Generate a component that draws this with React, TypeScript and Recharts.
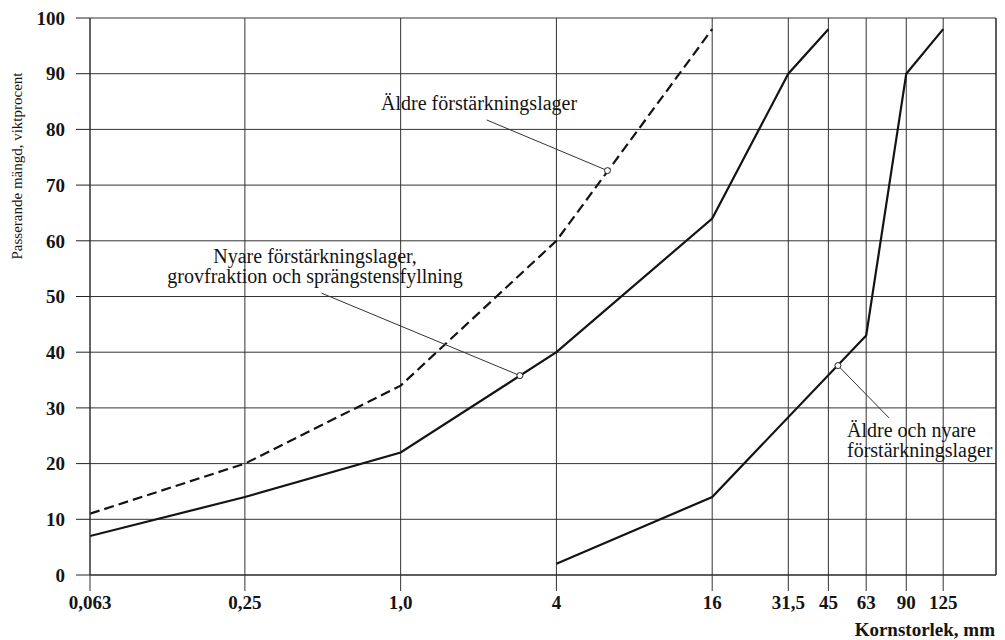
import React from 'react';
import {
  LineChart,
  Line,
  XAxis,
  YAxis,
  CartesianGrid,
  ReferenceLine,
  ReferenceDot,
  Label,
} from 'recharts';

// Sieve sizes (mm) shown on the x axis and their printed labels
const sieveTicks = [0.063, 0.25, 1.0, 4, 16, 31.5, 45, 63, 90, 125];
const sieveLabels = ['0,063', '0,25', '1,0', '4', '16', '31,5', '45', '63', '90', '125'];
const percentTicks = [0, 10, 20, 30, 40, 50, 60, 70, 80, 90, 100];

// Äldre förstärkningslager (dashed)
const aldreSizes = [0.063, 0.25, 1.0, 4, 16];
const aldrePass = [11, 20, 34, 60, 98];

// Nyare förstärkningslager, grovfraktion och sprängstensfyllning
const nyareSizes = [0.063, 0.25, 1.0, 4, 16, 31.5, 45];
const nyarePass = [7, 14, 22, 40, 64, 90, 98];

// Äldre och nyare förstärkningslager
const bandSizes = [4, 16, 63, 90, 125];
const bandPass = [2, 14, 43, 90, 98];

// Annotations: text anchor, leader start, marker on the curve (data coordinates)
const annotations = [
  {
    lines: ['Äldre förstärkningslager'],
    textX: 2.01, textY: 83.5, anchor: 'middle',
    leadX: 2.15, leadY: 81.7,
    dotX: 6.3, dotY: 72.6,
  },
  {
    lines: ['Nyare förstärkningslager,', 'grovfraktion och sprängstensfyllning'],
    textX: 0.467, textY: 56.0, anchor: 'middle',
    leadX: 0.495, leadY: 50.6,
    dotX: 2.89, dotY: 35.8,
  },
  {
    lines: ['Äldre och nyare', 'förstärkningslager'],
    textX: 53.1, textY: 24.8, anchor: 'start',
    leadX: 77.2, leadY: 28.2,
    dotX: 49, dotY: 37.6,
  },
];

const zip = (xs: number[], ys: number[]) => xs.map((x, i) => ({ size: x, pass: ys[i] }));
const aldreData = zip(aldreSizes, aldrePass);
const nyareData = zip(nyareSizes, nyarePass);
const bandData = zip(bandSizes, bandPass);

const FONT = '"Liberation Serif", "Times New Roman", Times, serif';
const INK = '#141414';

const fmtSieve = (v: number) => {
  const i = sieveTicks.indexOf(v);
  return i >= 0 ? sieveLabels[i] : String(v);
};

export default function App() {
  return (
    <LineChart width={997} height={632} margin={{ top: 10, right: 9, bottom: 0, left: 0 }}>
      <CartesianGrid stroke="#333" strokeWidth={1} />
      <XAxis
        type="number"
        dataKey="size"
        scale="log"
        domain={[0.063, 200]}
        allowDataOverflow
        ticks={sieveTicks}
        interval={0}
        tickFormatter={fmtSieve}
        tickSize={16}
        tickMargin={5}
        height={65}
        axisLine={{ stroke: '#222', strokeWidth: 1 }}
        tickLine={{ stroke: '#333', strokeWidth: 1 }}
        tick={{ fill: INK, fontSize: 19, fontWeight: 'bold', fontFamily: FONT }}
      >
        <Label
          content={() => (
            <text
              x={987}
              y={628}
              textAnchor="end"
              fill={INK}
              fontSize={19}
              fontWeight="bold"
              fontFamily={FONT}
            >
              Kornstorlek, mm
            </text>
          )}
        />
      </XAxis>
      <YAxis
        type="number"
        domain={[0, 100]}
        ticks={percentTicks}
        interval={0}
        width={82}
        tickSize={14}
        tickMargin={11}
        axisLine={{ stroke: '#333', strokeWidth: 1 }}
        tickLine={{ stroke: '#222', strokeWidth: 1 }}
        tick={{ fill: INK, fontSize: 19, fontWeight: 'bold', fontFamily: FONT }}
      >
        <Label
          content={() => (
            <text
              x={14}
              y={158}
              transform="rotate(-90 14 158)"
              textAnchor="middle"
              fill={INK}
              fontSize={15}
              fontFamily={FONT}
            >
              Passerande mängd, viktprocent
            </text>
          )}
        />
      </YAxis>
      <ReferenceLine x={200} stroke="#222" strokeWidth={1} />

      <Line
        data={aldreData}
        dataKey="pass"
        type="linear"
        stroke={INK}
        strokeWidth={2.2}
        strokeDasharray="10 5"
        dot={false}
        activeDot={false}
        isAnimationActive={false}
      />
      <Line
        data={nyareData}
        dataKey="pass"
        type="linear"
        stroke={INK}
        strokeWidth={2.2}
        dot={false}
        activeDot={false}
        isAnimationActive={false}
      />
      <Line
        data={bandData}
        dataKey="pass"
        type="linear"
        stroke={INK}
        strokeWidth={2.2}
        dot={false}
        activeDot={false}
        isAnimationActive={false}
      />

      {annotations.map((a, k) => (
        <ReferenceLine
          key={'l' + k}
          segment={[
            { x: a.leadX, y: a.leadY },
            { x: a.dotX, y: a.dotY },
          ]}
          stroke="#333"
          strokeWidth={1}
          ifOverflow="visible"
        />
      ))}
      {annotations.map((a, k) => (
        <ReferenceDot
          key={'d' + k}
          x={a.dotX}
          y={a.dotY}
          r={3}
          fill="#fff"
          stroke="#222"
          strokeWidth={1}
          ifOverflow="visible"
        />
      ))}
      {annotations.map((a, k) => (
        <ReferenceDot
          key={'t' + k}
          x={a.textX}
          y={a.textY}
          r={1}
          ifOverflow="visible"
          shape={(p: any) => (
            <text
              x={p.cx}
              y={p.cy}
              textAnchor={a.anchor as any}
              fill={INK}
              fontSize={20}
              fontFamily={FONT}
            >
              {a.lines.map((line, i) => (
                <tspan key={i} x={p.cx} dy={i === 0 ? 0 : 20}>
                  {line}
                </tspan>
              ))}
            </text>
          )}
        />
      ))}
    </LineChart>
  );
}
